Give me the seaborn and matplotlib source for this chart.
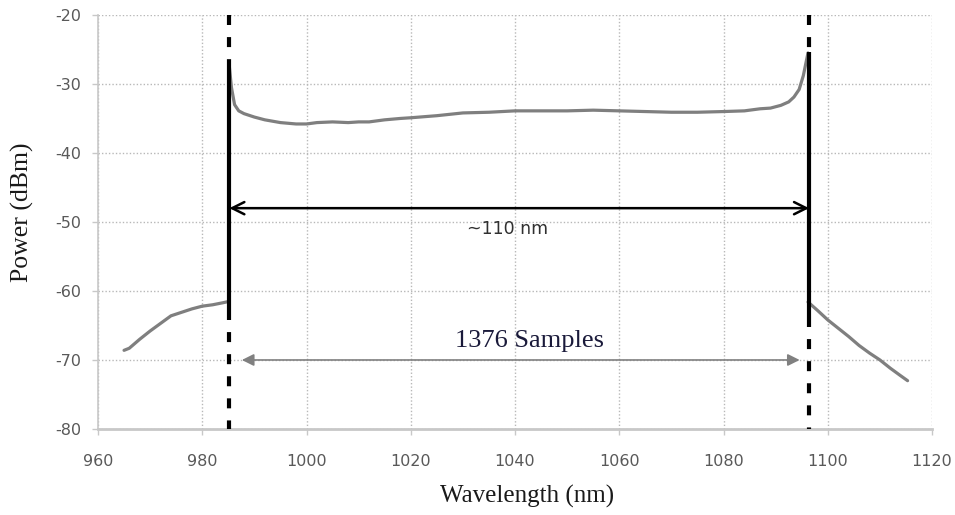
import matplotlib
matplotlib.use("Agg")
import matplotlib.pyplot as plt
import seaborn as sns
import pandas as pd

# ---- data ----
left_wl = [965, 966, 968, 970, 972, 974, 976, 978, 980, 982, 984, 985.2]
left_pw = [-68.6, -68.3, -67.0, -65.8, -64.7, -63.6, -63.1, -62.6, -62.2, -62.0, -61.7, -61.5]

band_wl = [985.2, 985.6, 986.2, 987, 988, 990, 992, 995, 998, 1000, 1002, 1005, 1008, 1010,
           1012, 1015, 1018, 1020, 1025, 1030, 1035, 1040, 1045, 1050, 1055, 1060, 1065,
           1070, 1075, 1080, 1084, 1087, 1089, 1091, 1092.5, 1093.5, 1094.5, 1095.3, 1096.2]
band_pw = [-27.5, -30.5, -33.0, -33.9, -34.3, -34.8, -35.2, -35.6, -35.8, -35.8, -35.6, -35.5,
           -35.6, -35.5, -35.5, -35.2, -35.0, -34.9, -34.6, -34.2, -34.1, -33.9, -33.9, -33.9,
           -33.8, -33.9, -34.0, -34.1, -34.1, -34.0, -33.9, -33.6, -33.5, -33.1, -32.6, -31.9,
           -30.8, -28.8, -25.5]

right_wl = [1096.2, 1098, 1100, 1102, 1104, 1106, 1108, 1110, 1112, 1114, 1115.3]
right_pw = [-61.6, -62.8, -64.2, -65.4, -66.6, -67.9, -69.0, -70.0, -71.2, -72.3, -73.0]

edge_wl = [985.2, 1096.4]
solid_top = [-27.0, -25.3]
solid_bot = [-62.8, -63.8]

span_label = "~110 nm"
samples_label = "1376 Samples"
x_ticks = [960, 980, 1000, 1020, 1040, 1060, 1080, 1100, 1120]
y_ticks = [-80, -70, -60, -50, -40, -30, -20]

# ---- figure ----
sns.set_theme(style="white")
plt.rcParams['font.family'] = ['DejaVu Sans']
serif = ["Liberation Serif", "DejaVu Serif"]

fig = plt.figure(figsize=(9.55, 5.15), dpi=100)
ax = fig.add_axes([0.1026, 0.167, 0.8734, 0.804])

curve_color = "#7f7f7f"
for wl, pw in [(left_wl, left_pw), (band_wl, band_pw), (right_wl, right_pw)]:
    df = pd.DataFrame({"wl": wl, "pw": pw})
    sns.lineplot(data=df, x="wl", y="pw", ax=ax, color=curve_color, lw=2.3,
                 sort=False, estimator=None, zorder=3)

# vertical markers
for x, top, bot in zip(edge_wl, solid_top, solid_bot):
    ax.plot([x, x], [-20, top], color="black", lw=3.0, ls=(0, (2.4, 2.9)), zorder=4,
            dash_capstyle="butt")
    ax.plot([x, x], [top, bot], color="black", lw=3.0, zorder=4, solid_capstyle="butt")
    ax.plot([x, x], [bot, -80], color="black", lw=3.0, ls=(0, (2.4, 2.9)), zorder=4,
            dash_capstyle="butt")

# black span arrow
ax.annotate("", xy=(edge_wl[0], -48), xytext=(edge_wl[1], -48),
            arrowprops=dict(arrowstyle="<->", color="black", lw=1.8,
                            mutation_scale=22, shrinkA=0, shrinkB=0), zorder=5)
ax.text(1038.5, -51.0, span_label, ha="center", va="center", fontsize=12.5,
        color="#303030")

# gray samples arrow
ax.annotate("", xy=(987.6, -70), xytext=(1094.6, -70),
            arrowprops=dict(arrowstyle="<|-|>", color="#808080", lw=1.2,
                            mutation_scale=18, shrinkA=0, shrinkB=0), zorder=5)
ax.text(1042.7, -67.2, samples_label, ha="center", va="center", fontsize=19,
        color="#1a1a3a", family=serif)

# axes styling
ax.set_xlim(960, 1120)
ax.set_ylim(-80, -20)
ax.set_xticks(x_ticks)
ax.set_yticks(y_ticks)
ax.set_xticklabels([str(t) for t in x_ticks], fontsize=11.5, color="#595959")
ax.set_yticklabels([str(t) for t in y_ticks], fontsize=11.5, color="#595959")
ax.grid(True, color="#b8b8b8", ls=(0, (1, 1.5)), lw=1.0)
for s in ["top", "right"]:
    ax.spines[s].set_visible(False)
ax.spines["left"].set_color("#c8c8c8")
ax.spines["bottom"].set_color("#c8c8c8")
ax.spines["left"].set_linewidth(1.2)
ax.spines["bottom"].set_linewidth(2.0)
ax.tick_params(axis="both", which="major", length=4, width=1, color="#c8c8c8",
               direction="out", bottom=True, left=True)
ax.tick_params(axis="x", pad=14)
ax.tick_params(axis="y", pad=8)

ax.set_xlabel("Wavelength (nm)", fontsize=18, family=serif, color="#1a1a1a")
ax.set_ylabel("Power (dBm)", fontsize=18.5, family=serif, color="#1a1a1a")
ax.xaxis.set_label_coords(0.514, -0.135)
ax.yaxis.set_label_coords(-0.077, 0.523)

fig.savefig("out.png", dpi=100)
